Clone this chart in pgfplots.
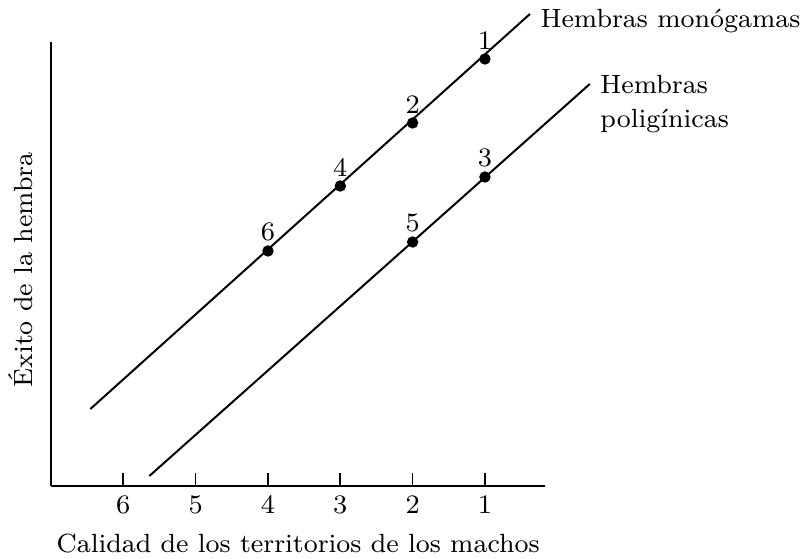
\documentclass[border=0pt]{standalone}
\usepackage{pgfplots}
\pgfplotsset{compat=1.18}
\begin{document}
\begin{tikzpicture}
\useasboundingbox (-15.3pt,-21.9pt) rectangle (224.7pt,145.8pt);
\begin{axis}[
    name=ax,
    at={(0,0)}, anchor=south west,
    scale only axis,
    width=148.2pt, height=133.2pt,
    x dir=reverse,
    xmin=0.17, xmax=7.0,
    ymin=0, ymax=444,
    axis x line=bottom, axis y line=left,
    axis line style={-, line width=0.5pt},
    xtick={1,2,3,4,5,6},
    ytick=\empty,
    tick align=inside,
    major tick length=3.9pt,
    tick style={black, line width=0.5pt},
    tick label style={font=\fontsize{8}{10}\selectfont},
    xticklabel style={yshift=0.3pt},
    clip=false,
]
% monogamous females
\addplot[black, line width=0.6pt] coordinates {(6.456,77) (0.378,472)};
\addplot[only marks, mark=*, mark size=1.5pt, black,
    nodes near coords, point meta=explicit symbolic,
    nodes near coords style={anchor=south, inner sep=0pt, yshift=2.7pt,
        font=\fontsize{8}{10}\selectfont}]
    coordinates {(1,427)[1] (2,363)[2] (3,300)[4] (4,235)[6]};
% polygynous females
\addplot[black, line width=0.6pt] coordinates {(5.64,10) (-0.45,402)};
\addplot[only marks, mark=*, mark size=1.5pt, black,
    nodes near coords, point meta=explicit symbolic,
    nodes near coords style={anchor=south, inner sep=0pt, yshift=2.7pt,
        font=\fontsize{8}{10}\selectfont}]
    coordinates {(1,309)[3] (2,244)[5]};
\node[anchor=base west, inner sep=0pt, font=\fontsize{7.9}{10}\selectfont]
    at (axis cs:0.240,458) {Hembras monógamas};
\node[anchor=base west, inner sep=0pt, font=\fontsize{7.9}{10}\selectfont]
    at (axis cs:-0.588,392) {Hembras};
\node[anchor=base west, inner sep=0pt, font=\fontsize{7.9}{10}\selectfont]
    at (axis cs:-0.588,358) {poligínicas};
\node[anchor=base, inner sep=0pt, font=\fontsize{7.9}{10}\selectfont]
    at (axis cs:3.583,-66) {Calidad de los territorios de los machos};
\node[anchor=base, rotate=90, inner sep=0pt, font=\fontsize{7.9}{10}\selectfont]
    at (axis cs:7.257,216) {Éxito de la hembra};
\end{axis}
\end{tikzpicture}
\end{document}
